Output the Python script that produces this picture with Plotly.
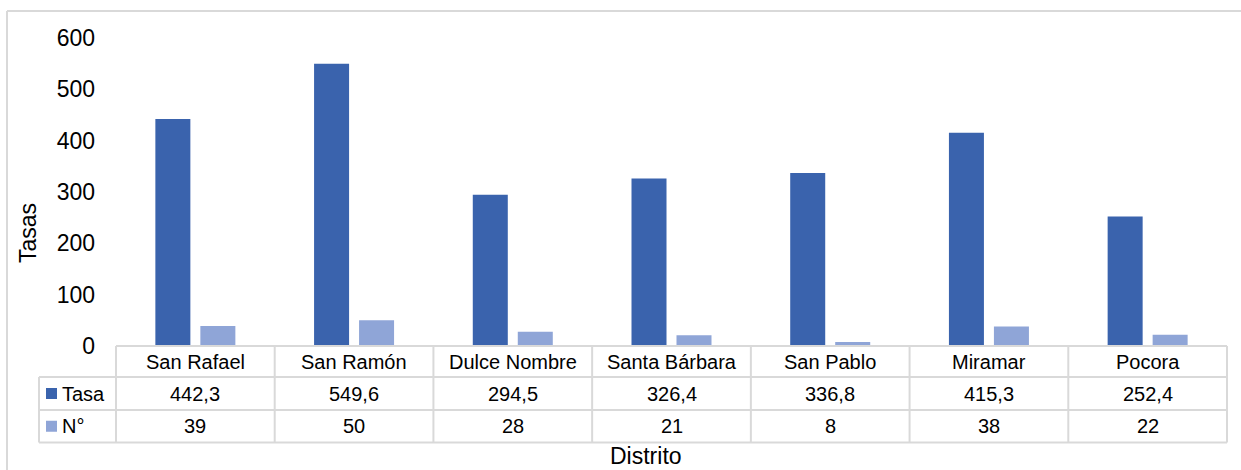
import plotly.graph_objects as go

categories = ["San Rafael", "San Ramón", "Dulce Nombre", "Santa Bárbara", "San Pablo", "Miramar", "Pocora"]
tasa = [442.3, 549.6, 294.5, 326.4, 336.8, 415.3, 252.4]
numero = [39, 50, 28, 21, 8, 38, 22]
series_names = ["Tasa", "N°"]
y_ticks = [0, 100, 200, 300, 400, 500, 600]

DARK = "#3A63AD"
LIGHT = "#8FA5D7"
GRID = "#D9D9D9"
FONT = "Liberation Sans, Arial, sans-serif"

# layout geometry (pixels)
FW, FH = 1241, 470
L, R, T, B = 116, 1227, 38, 346
W, H = R - L, B - T


def X(px):
    return (px - L) / W


def Y(py):
    return (B - py) / H


fig = go.Figure()
fig.add_trace(go.Bar(x=categories, y=tasa, name=series_names[0], marker_color=DARK, marker_line_width=0))
fig.add_trace(go.Bar(x=categories, y=numero, name=series_names[1], marker_color=LIGHT, marker_line_width=0))

shapes = []
annotations = []
line = dict(color=GRID, width=2)

row_lines = [346, 377, 410, 442.5]
legend_left = 39
# horizontal lines
shapes.append(dict(type="line", xref="paper", yref="paper", x0=X(L), x1=X(R), y0=Y(row_lines[0]), y1=Y(row_lines[0]), line=line))
for py in row_lines[1:]:
    shapes.append(dict(type="line", xref="paper", yref="paper", x0=X(legend_left), x1=X(R), y0=Y(py), y1=Y(py), line=line))
# vertical lines
shapes.append(dict(type="line", xref="paper", yref="paper", x0=X(legend_left), x1=X(legend_left), y0=Y(row_lines[1]), y1=Y(row_lines[3]), line=line))
n = len(categories)
for i in range(n + 1):
    xp = X(L + W * i / n)
    shapes.append(dict(type="line", xref="paper", yref="paper", x0=xp, x1=xp, y0=Y(row_lines[0]), y1=Y(row_lines[3]), line=line))

# outer chart border (left and top)
shapes.append(dict(type="line", xref="paper", yref="paper", x0=X(7), x1=X(7), y0=Y(11), y1=Y(FH + 5), line=line))
shapes.append(dict(type="line", xref="paper", yref="paper", x0=X(7), x1=X(FW + 5), y0=Y(11), y1=Y(11), line=line))

row_centers = [(row_lines[k] + row_lines[k + 1]) / 2 for k in range(3)]
tfont = dict(family=FONT, size=20, color="#000000")

for i, cat in enumerate(categories):
    xc = X(L + W * (i + 0.5) / n)
    annotations.append(dict(x=xc, y=Y(row_centers[0]), xref="paper", yref="paper", text=cat, showarrow=False, font=tfont, xanchor="center", yanchor="middle"))
    annotations.append(dict(x=xc, y=Y(row_centers[1]), xref="paper", yref="paper", text=f"{tasa[i]:.1f}".replace(".", ","), showarrow=False, font=tfont, xanchor="center", yanchor="middle"))
    annotations.append(dict(x=xc, y=Y(row_centers[2]), xref="paper", yref="paper", text=str(numero[i]), showarrow=False, font=tfont, xanchor="center", yanchor="middle"))

# legend keys in table
for k, (name, col) in enumerate(zip(series_names, [DARK, LIGHT])):
    cy = row_centers[k + 1]
    shapes.append(dict(type="rect", xref="paper", yref="paper", x0=X(46), x1=X(57), y0=Y(cy + 5.5), y1=Y(cy - 5.5), fillcolor=col, line=dict(width=0)))
    annotations.append(dict(x=X(60), y=Y(cy), xref="paper", yref="paper", text=name, showarrow=False, font=tfont, xanchor="left", yanchor="middle"))

# axis titles
annotations.append(dict(x=X(28), y=Y(233), xref="paper", yref="paper", text="Tasas", textangle=-90, showarrow=False, font=dict(family=FONT, size=23, color="#000000"), xanchor="center", yanchor="middle"))
annotations.append(dict(x=X(646), y=Y(456), xref="paper", yref="paper", text="Distrito", showarrow=False, font=dict(family=FONT, size=23, color="#000000"), xanchor="center", yanchor="middle"))

fig.update_layout(
    width=FW, height=FH,
    margin=dict(l=L, r=FW - R, t=T, b=FH - B),
    paper_bgcolor="white", plot_bgcolor="white",
    barmode="group", bargap=0.433, bargroupgap=0.222,
    showlegend=False,
    shapes=shapes, annotations=annotations,
    font=dict(family=FONT, color="#000000"),
    xaxis=dict(type="category", range=[-0.5, n - 0.5], showticklabels=False, showgrid=False, zeroline=False, showline=False, ticks=""),
    yaxis=dict(range=[0, 600], tickvals=y_ticks, showgrid=False, zeroline=False, showline=False, ticks="",
               tickfont=dict(family=FONT, size=23, color="#000000"), ticklabelstandoff=20),
)

fig.write_html("out.html", config={"displayModeBar": False},
               post_script="document.body.style.margin='0';document.body.style.overflow='hidden';")
